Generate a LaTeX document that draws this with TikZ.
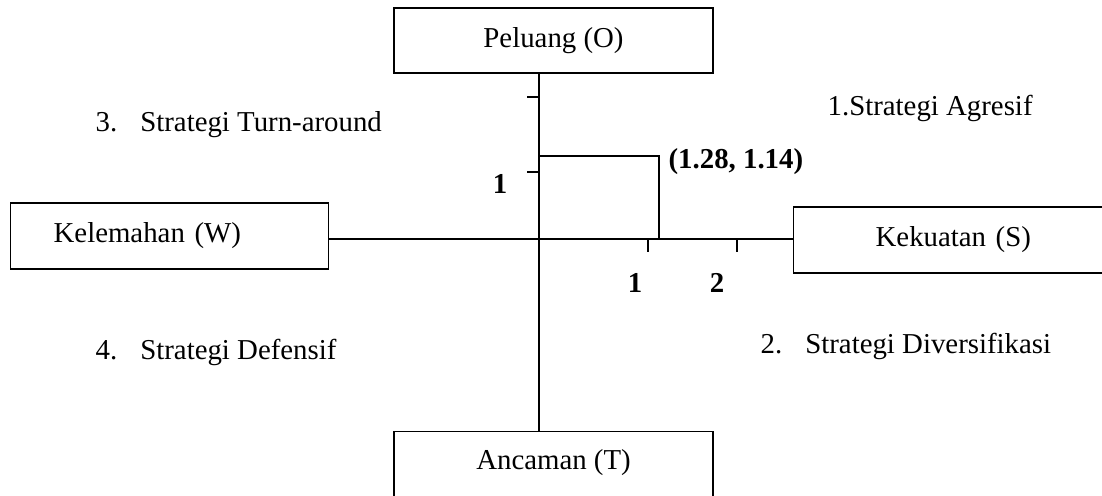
\documentclass[tikz,border=0pt]{standalone}
\usepackage{fontspec}
\setmainfont{Liberation Serif}
\usepackage{tikz}
\usetikzlibrary{positioning}

\tikzset{
  box/.style={draw, line width=0.9pt, inner sep=0pt, font=\fontsize{20.5}{24}\selectfont},
  lbl/.style={font=\fontsize{20.5}{24}\selectfont, inner sep=0pt},
  num/.style={font=\fontsize{20.5}{24}\selectfont\bfseries, inner sep=0pt}
}

\begin{document}
\begin{tikzpicture}[x=0.025cm, y=-0.025cm, line width=0.9pt]
\useasboundingbox (0,0) rectangle (1102,495);

% the four boxes
\node[box, minimum width=7.975cm, minimum height=1.625cm] (peluang) at (553.5,40.5) {Peluang (O)};
\node[box, anchor=north, minimum width=7.975cm, text height=0.95cm, text depth=1.5cm] (ancaman) at (553.5,431) {Ancaman (T)};
\node[box, anchor=west, minimum height=1.65cm, text width=5.8cm, inner xsep=1.075cm, align=left] (kelemahan) at (10,236) {Kelemahan (W)};
\node[box, anchor=west, minimum height=1.65cm, text width=5cm, inner xsep=2.05cm, align=left] (kekuatan) at (793,240) {Kekuatan (S)};

% axes
\coordinate (o) at (539,239);
\draw (o |- peluang.south) -- (o |- ancaman.north);
\draw (kelemahan.east |- o) -- (kekuatan.west |- o);

% ticks
\foreach \y in {97,172}
\draw (527,\y) -- (539,\y);
\foreach \x in {648,737}
\draw (\x,239) -- (\x,252);

% point of the position
\coordinate (p) at (659,156);
\draw (o |- p) -- (p) -- (p |- o);
\node[num, anchor=west] (pos) at (668,162) {(1.28, 1.14)};

% scale numbers
\node[num] (y1) at (500,184) {1};
\node[num] (x1) at (635,283) {1};
\node[num] (x2) at (717,283) {2};

% strategies
\node[lbl, anchor=west] (s1) at (827,108) {1.Strategi Agresif};
\node[lbl, anchor=west] (s3) at (95,125) {3.\hspace{0.8em}Strategi Turn-around};
\node[lbl, anchor=west] (s4) at (95,352) {4.\hspace{0.8em}Strategi Defensif};
\node[lbl, anchor=west] (s2) at (760,346) {2.\hspace{0.8em}Strategi Diversifikasi};
\end{tikzpicture}
\end{document}
